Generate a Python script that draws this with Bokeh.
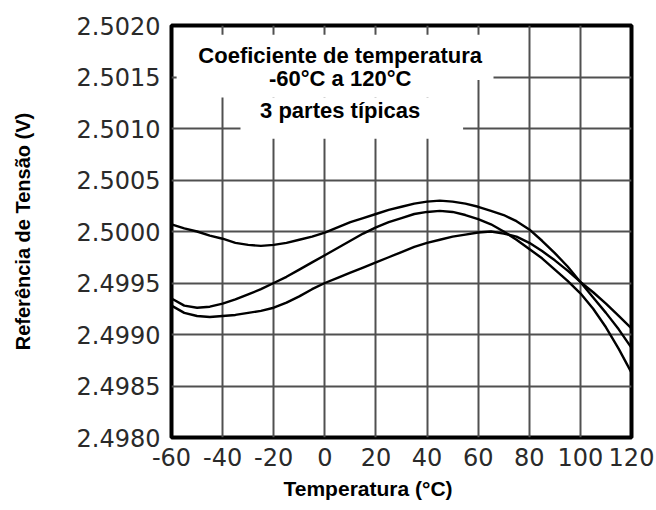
from bokeh.plotting import figure
from bokeh.models import (Range1d, FixedTicker, PrintfTickFormatter, Label,
                          BoxAnnotation, Title)
from bokeh.embed import file_html
from bokeh.resources import INLINE

# Temperature (deg C) and reference voltage (V) for three typical parts
temperature = [-60, -55, -50, -45, -40, -35, -30, -25, -20, -15, -10, -5, 0, 5, 10, 15, 20, 25, 30,
               35, 40, 45, 50, 55, 60, 65, 70, 75, 80, 85, 90, 95, 100, 105, 110, 115, 120]
part_1 = [2.50007, 2.50003, 2.50000, 2.49996, 2.49993, 2.49989, 2.49987, 2.49986, 2.49987, 2.49989,
          2.49992, 2.49995, 2.49999, 2.50004, 2.50009, 2.50013, 2.50017, 2.50021, 2.50024, 2.50027,
          2.50029, 2.50030, 2.50029, 2.50027, 2.50024, 2.50020, 2.50016, 2.50010, 2.50002, 2.49991,
          2.49979, 2.49966, 2.49951, 2.49936, 2.49921, 2.49905, 2.49887]
part_2 = [2.49935, 2.49928, 2.49926, 2.49927, 2.49930, 2.49934, 2.49939, 2.49944, 2.49950, 2.49956,
          2.49963, 2.49970, 2.49977, 2.49984, 2.49991, 2.49998, 2.50004, 2.50009, 2.50013, 2.50017,
          2.50019, 2.50020, 2.50019, 2.50016, 2.50012, 2.50007, 2.50000, 2.49992, 2.49983, 2.49974,
          2.49963, 2.49952, 2.49940, 2.49925, 2.49907, 2.49886, 2.49863]
part_3 = [2.49928, 2.49921, 2.49918, 2.49917, 2.49918, 2.49919, 2.49921, 2.49923, 2.49926, 2.49931,
          2.49937, 2.49944, 2.49950, 2.49955, 2.49960, 2.49965, 2.49970, 2.49975, 2.49980, 2.49985,
          2.49989, 2.49992, 2.49995, 2.49997, 2.49999, 2.50000, 2.49998, 2.49995, 2.49989, 2.49981,
          2.49972, 2.49962, 2.49951, 2.49941, 2.49930, 2.49918, 2.49906]

x_ticks = [-60, -40, -20, 0, 20, 40, 60, 80, 100, 120]
x_tick_labels = ["-60", "-40", "-20", "0", "20", "40", "60", "80", "100", "120"]
y_ticks = [2.4980, 2.4985, 2.4990, 2.4995, 2.5000, 2.5005, 2.5010, 2.5015, 2.5020]

note_lines = ["Coeficiente de temperatura", "-60\u00b0C a 120\u00b0C", "3 partes t\u00edpicas"]
x_title = "Temperatura (\u00b0C)"
y_title = "Refer\u00eancia de Tens\u00e3o (V)"

p = figure(width=656, height=510, output_backend="svg", toolbar_location=None,
           x_range=Range1d(-60, 120), y_range=Range1d(2.4980, 2.5020),
           min_border_left=171, min_border_right=25, min_border_top=25,
           min_border_bottom=73, background_fill_color="white",
           border_fill_color="white")

p.outline_line_color = "black"
p.outline_line_width = 4

p.xaxis.ticker = FixedTicker(ticks=x_ticks)
p.xaxis.major_label_overrides = dict(zip(x_ticks, x_tick_labels))
p.yaxis.ticker = FixedTicker(ticks=y_ticks)
p.yaxis.formatter = PrintfTickFormatter(format="%.4f")

for ax in (p.xaxis[0], p.yaxis[0]):
    ax.axis_line_color = None
    ax.major_tick_line_color = None
    ax.minor_tick_line_color = None
    ax.major_tick_in = 0
    ax.major_tick_out = 0
    ax.major_label_text_font = "DejaVu Sans"
    ax.major_label_text_font_size = "24px"
    ax.major_label_text_color = "#2a2a2a"
p.yaxis.major_label_standoff = 11
p.xaxis.major_label_standoff = 10

# vertical axis title, rotated
p.yaxis.axis_label = y_title
p.yaxis.axis_label_standoff = 40
p.yaxis.axis_label_text_font = "Liberation Sans"
p.yaxis.axis_label_text_font_style = "bold"
p.yaxis.axis_label_text_font_size = "20px"
p.yaxis.axis_label_text_color = "black"

# horizontal axis title, set a little left of the frame centre
p.add_layout(Title(text=x_title, align="left", offset=112, standoff=13,
                   text_font="Liberation Sans", text_font_style="bold",
                   text_font_size="21px", text_color="black"), "below")

p.grid.grid_line_color = "#505050"
p.grid.grid_line_width = 2

for series in (part_1, part_2, part_3):
    p.line(temperature, series, line_color="black", line_width=2.4)

# white panel behind the note, breaking the grid
for left, right, top, bottom in [(-58, 66, 2.50191, 2.50147),
                                 (-43, 57.3, 2.50147, 2.50130),
                                 (-33, 54.1, 2.50130, 2.50090)]:
    p.add_layout(BoxAnnotation(left=left, right=right, top=top, bottom=bottom,
                               fill_color="white", fill_alpha=1.0,
                               line_color=None, line_alpha=0))

for text, ypos in zip(note_lines, [2.50171, 2.50149, 2.50117]):
    p.add_layout(Label(x=6, y=ypos, text=text, text_align="center",
                       text_baseline="alphabetic", text_font="Liberation Sans",
                       text_font_style="bold", text_font_size="22px",
                       text_color="black"))

open("out.html", "w").write(file_html(p, INLINE))
